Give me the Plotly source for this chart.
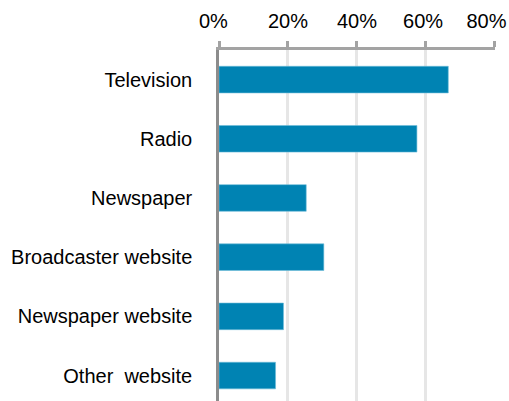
import plotly.graph_objects as go

# Share of respondents using each source
sources = ["Television", "Radio", "Newspaper", "Broadcaster website",
           "Newspaper website", "Other  website"]
shares = [0.665, 0.574, 0.253, 0.304, 0.187, 0.164]
tick_values = [0, 0.2, 0.4, 0.6, 0.8]
tick_labels = ["0%\u00a0\u00a0", "20%", "40%", "60%\u00a0", "80%\u00a0\u00a0\u00a0"]

fig = go.Figure(
    go.Bar(
        x=shares,
        y=sources,
        orientation="h",
        width=0.45,
        marker=dict(color="#0083B3", line=dict(color="#6cbcd8", width=0.6)),
    )
)

font_family = "Liberation Sans, Arial, sans-serif"

fig.update_layout(
    width=509,
    height=401,
    margin=dict(l=219, r=14, t=50, b=0),
    paper_bgcolor="white",
    plot_bgcolor="white",
    showlegend=False,
    font=dict(family=font_family, size=20, color="#000000"),
)

fig.update_xaxes(
    side="top",
    range=[0, 0.8005],
    tickvals=tick_values,
    ticktext=tick_labels,
    showgrid=True,
    gridcolor="#e6e6e6",
    gridwidth=3,
    showline=True,
    linecolor="#a3a3a3",
    linewidth=2.5,
    ticks="outside",
    ticklen=6,
    tickwidth=2.5,
    tickcolor="#a3a3a3",
    zeroline=False,
    automargin=False,
    ticklabelstandoff=5,
    ticklabeloverflow="allow",
    tickfont=dict(size=20),
)

fig.update_yaxes(
    categoryorder="array",
    categoryarray=sources,
    range=[5.43, -0.5],
    showline=True,
    linecolor="#8c8c8c",
    linewidth=2.5,
    showgrid=False,
    ticks="",
    automargin=False,
    ticklabelstandoff=20,
    tickfont=dict(size=20),
)

fig.write_html("out.html")
